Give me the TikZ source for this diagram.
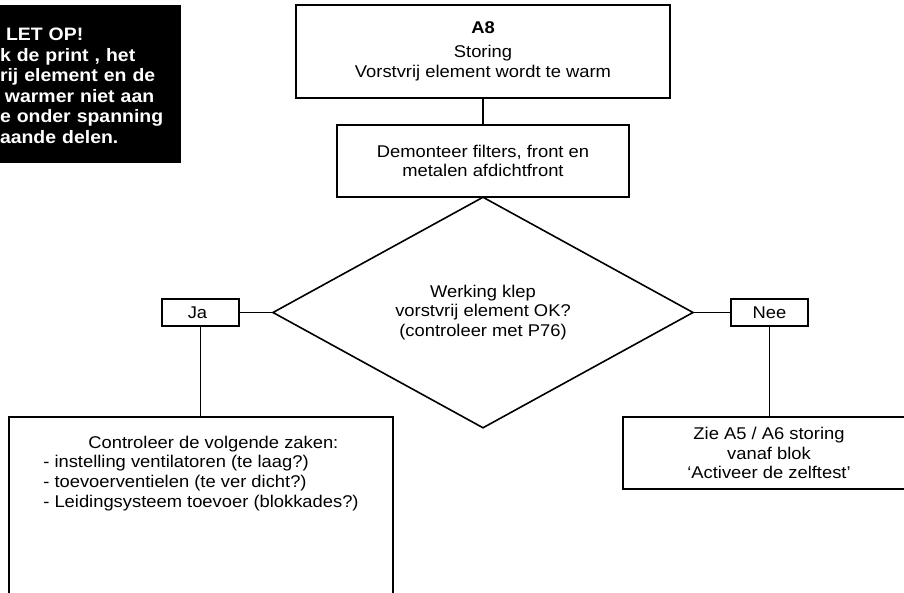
\documentclass[tikz,border=0pt]{standalone}
\usepackage{fontspec}
\setmainfont{Liberation Sans}[FakeStretch=1.08]
\usetikzlibrary{shapes.geometric}
\newcommand\stroomfont{\fontsize{17pt}{19.6pt}\selectfont}
\newcommand\letopfont{\fontsize{18pt}{20.6pt}\selectfont\bfseries}
\hyphenpenalty=10000
\exhyphenpenalty=10000

\begin{document}
\begin{tikzpicture}[x=1pt,y=-1pt,line width=1.6pt,
  every node/.style={font=\stroomfont,align=center,inner sep=0pt,outer sep=0pt},
  blok/.style={draw,rectangle},
  keuze/.style={draw,diamond,minimum width=420pt,minimum height=175pt},
  antwoord/.style={draw,rectangle,minimum width=77pt,minimum height=27pt},
  waarschuwing/.style={fill=black,text=white,font=\letopfont,align=left}]
\useasboundingbox (0,0) rectangle (904,592);
\clip (0,0) rectangle (904,592);
\fill[white] (0,0) rectangle (904,592);

\node(letop)[waarschuwing,anchor=north west,inner xsep=11pt,text width=170pt,minimum height=158pt] at (-11,5)
  {\rule{0pt}{16pt}\hspace*{6pt}LET OP!\\k de print , het\\rij element en de\\\hspace*{5pt}warmer niet aan\\e onder spanning\\aande delen.};
\node(melding)[blok,minimum width=374pt,minimum height=93pt] at (483,51.5)
  {\textbf{A8}\\[4.5pt]Storing\\Vorstvrij element wordt te warm};
\node(demonteer)[blok,minimum width=292pt,minimum height=72pt] at (483,161)
  {Demonteer filters, front en\\metalen afdichtfront};
\node(klep)[keuze] at (483,312.5)
  {Werking klep\\vorstvrij element OK?\\(controleer met P76)};
\node(ja)[antwoord]  at (200.5,312.5) {Ja\hspace*{6pt}};
\node(nee)[antwoord] at (769.5,312.5) {Nee};
\node(controle)[blok,anchor=north west,minimum width=384pt,inner ysep=19pt,align=left] at (9,417)
  {\hspace*{45pt}Controleer de volgende zaken:\\- instelling ventilatoren (te laag?)\\- toevoerventielen (te ver dicht?)\\- Leidingsysteem toevoer (blokkades?)\\\rule{0pt}{90pt}};
\node(zie)[blok,minimum width=292pt,minimum height=72pt] at (769,453)
  {Zie A5 / A6 storing\\vanaf blok\\‘Activeer de zelftest’};

\draw (melding)   -- (demonteer);
\draw (demonteer) -- (klep);
\draw (klep) -- (ja);
\draw (klep) -- (nee);
\draw (ja)  -- (ja |- controle.north);
\draw (nee) -- (nee |- zie.north);
\end{tikzpicture}
\end{document}
